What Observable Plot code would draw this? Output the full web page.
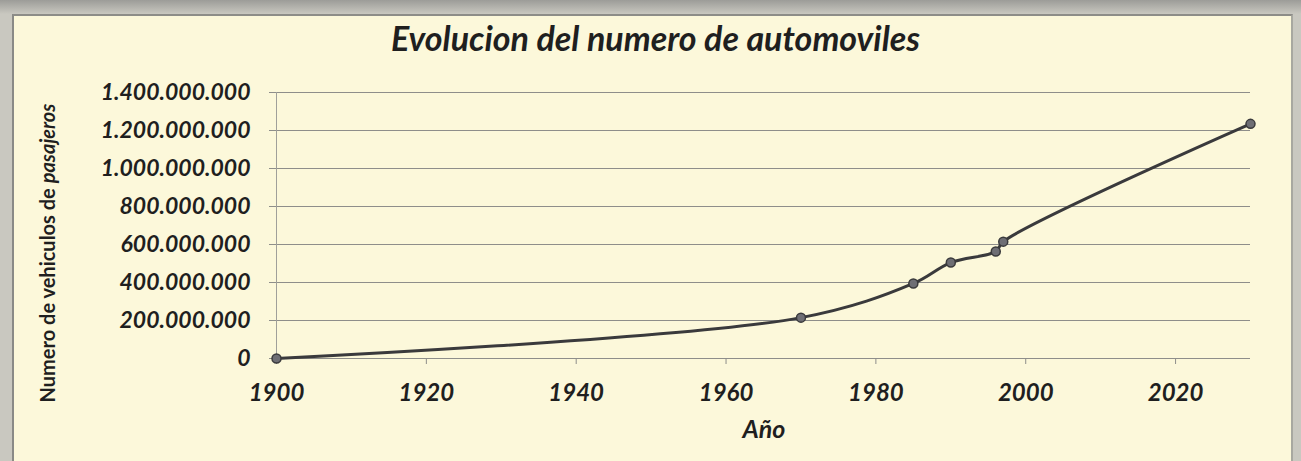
<!DOCTYPE html>
<html>
<head>
<meta charset="utf-8">
<script src="https://cdn.jsdelivr.net/npm/d3@7"></script>
<script src="https://cdn.jsdelivr.net/npm/@observablehq/plot@0.6"></script>
<style>
  html, body { margin: 0; padding: 0; }
  body { width: 1301px; height: 461px; position: relative; overflow: hidden;
         background: linear-gradient(#9c9c98, #c9c8c0 14px, #c9c8c0); font-family: Lato, "Open Sans", sans-serif; }
  #frame { position: absolute; left: 12px; top: 14px; width: 1277px; height: 460px;
           background: #fcf8da; border-left: 2px solid #8a8a86; border-top: 2px solid #8d8d88; border-right: 2px solid #a8a8a0; }
  #title { position: absolute; left: 0; top: 17px; width: 1311px; text-align: center;
           font-weight: 700; font-style: italic; font-size: 34px; color: #1f1f1f; }
  #ylabel { position: absolute; left: 47px; top: 253px; transform: translate(-50%, -50%) rotate(-90deg);
            white-space: nowrap; font-weight: 700; font-size: 20px; color: #1f1f1f; }
  #xlabel { position: absolute; left: 764px; top: 428px; transform: translate(-50%, -50%);
            font-weight: 700; font-style: italic; font-size: 25px; color: #1f1f1f; }
  #chart { position: absolute; left: 0; top: 62px; }
</style>
</head>
<body>
<div id="frame"></div>
<div id="title">Evolucion del numero de automoviles</div>
<div id="ylabel">Numero de vehiculos de <i>pasajeros</i></div>
<div id="xlabel">Año</div>
<div id="chart"></div>
<script>
const years = [1900, 1970, 1985, 1990, 1996, 1997, 2030];
const vehicles = [0, 215000000, 395000000, 505000000, 563000000, 615000000, 1235000000];
const xTicks = [1900, 1920, 1940, 1960, 1980, 2000, 2020];
const yTicks = [0, 200000000, 400000000, 600000000, 800000000, 1000000000, 1200000000, 1400000000];

const data = years.map((y, i) => ({year: y, value: vehicles[i]}));
const fmt = d3.formatLocale({decimal: ",", thousands: ".", grouping: [3], currency: ["", ""]}).format(",d");

const chart = Plot.plot({
  width: 1301,
  height: 399,
  marginLeft: 276,
  marginRight: 51,
  marginTop: 30,
  marginBottom: 103,
  style: {background: "transparent", fontFamily: "Lato, 'Open Sans', sans-serif", fontWeight: 700, fontStyle: "italic", fontSize: "23px", color: "#1f1f1f"},
  x: {domain: [1900, 2030]},
  y: {domain: [0, 1400000000]},
  marks: [
    Plot.gridY(yTicks, {stroke: "#8e8e8a", strokeOpacity: 1, strokeWidth: 1}),
    Plot.ruleX([1900], {y1: 0, y2: 1400000000, stroke: "#a0a09a", strokeWidth: 1}),
    Plot.axisX(xTicks, {tickFormat: d => String(d), tickSize: 6, tickPadding: 19, stroke: "#8e8e8a", fill: "#1f1f1f", label: null, fontSize: 24}),
    Plot.axisY(yTicks, {tickFormat: fmt, tickSize: 7, tickPadding: 19, stroke: "#8e8e8a", fill: "#1f1f1f", label: null, fontSize: 23}),
    Plot.line(data, {x: "year", y: "value", curve: "catmull-rom", stroke: "#3a3a3c", strokeWidth: 3}),
    Plot.dot(data, {x: "year", y: "value", r: 4.5, fill: "#6e6e74", stroke: "#3a3a3c", strokeWidth: 1.5})
  ]
});
document.getElementById("chart").appendChild(chart);
</script>
</body>
</html>
